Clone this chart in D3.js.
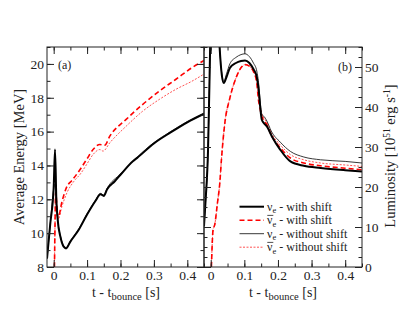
<!DOCTYPE html>
<html><head><meta charset="utf-8">
<script src="https://cdn.jsdelivr.net/npm/d3@7"></script>
<style>body{margin:0;background:#fff}svg{display:block}text{font-family:"Liberation Serif","DejaVu Serif",serif;fill:#222}</style>
</head><body><svg id="c" width="407" height="315"></svg>
<script>
// ---------- data ----------
const xTicks = [0, 0.1, 0.2, 0.3, 0.4];
const xTickLabels = ["0", "0.1", "0.2", "0.3", "0.4"];
const energyTicks = [8, 10, 12, 14, 16, 18, 20];
const lumTicks = [0, 10, 20, 30, 40, 50];

// (a) average energy
const eNuShiftT = [-0.02,-0.01,0,0.004,0.008,0.012,0.02,0.03,0.037,0.05,0.075,0.1,0.125,0.14,0.15,0.16,0.183,0.2,0.237,0.25,0.3,0.35,0.4,0.45];
const eNuShift  = [8.5,10.6,12.7,14.95,12.0,10.8,9.8,9.2,9.1,9.5,10.2,11.1,11.9,12.3,12.2,12.6,13.07,13.45,14.25,14.45,15.3,15.95,16.55,17.05];
const eNuNoShiftT = [-0.02,-0.01,0,0.004,0.008,0.012,0.02,0.03,0.037,0.05,0.075,0.1,0.125,0.14,0.15,0.16,0.2,0.25,0.3,0.35,0.4,0.45];
const eNuNoShift  = [8.5,10.6,12.6,12.9,11.8,10.8,9.85,9.25,9.15,9.55,10.25,11.15,11.95,12.35,12.25,12.65,13.5,14.5,15.35,16.0,16.6,17.1];
const eAntiShiftT = [0.002,0.004,0.006,0.01,0.013,0.025,0.04,0.054,0.079,0.1,0.118,0.138,0.153,0.168,0.217,0.266,0.316,0.365,0.414,0.45];
const eAntiShift  = [7.5,10.5,12.4,11.5,10.9,11.88,12.77,13.1,13.76,14.4,14.94,15.24,15.2,15.73,16.72,17.6,18.39,19.08,19.78,20.2];
const eAntiNoShiftT = [0.002,0.004,0.006,0.01,0.013,0.025,0.04,0.06,0.08,0.1,0.118,0.138,0.148,0.168,0.217,0.266,0.316,0.365,0.414,0.45];
const eAntiNoShift  = [7.5,10.5,12.3,11.3,10.8,11.6,12.4,13.05,13.5,14.1,14.65,14.94,14.85,15.34,16.32,17.2,17.9,18.49,18.98,19.4];

// (b) luminosity
const lNuShiftT = [-0.02,-0.015,-0.008,-0.004,0,0.012,0.025,0.033,0.039,0.047,0.057,0.075,0.09,0.102,0.115,0.127,0.137,0.143,0.147,0.152,0.16,0.167,0.182,0.207,0.237,0.277,0.327,0.4,0.45];
const lNuShift  = [10.2,17,29.3,45,62,85,57,48,46,47.5,49.75,51,51.5,51.65,51,49.5,47.5,44,40.15,36.8,35.8,35.15,32.65,29.3,26.4,25.3,24.75,24.2,23.9];
const lNuNoShiftT = [-0.02,-0.015,-0.008,-0.004,0,0.012,0.025,0.033,0.039,0.047,0.057,0.075,0.09,0.102,0.115,0.127,0.137,0.143,0.147,0.152,0.16,0.167,0.18,0.207,0.237,0.277,0.327,0.4,0.45];
const lNuNoShift  = [10.2,17,29.3,45,62,85,57,48.3,46.4,48.3,50.8,52.4,53.1,53.3,52.6,51.0,49,45.5,41.5,38.2,37.5,36.5,34,31.2,28.9,27.5,26.8,26.4,26.0];
const lAntiShiftT = [0.002,0.007,0.012,0.02,0.027,0.032,0.042,0.057,0.077,0.09,0.102,0.115,0.127,0.137,0.142,0.147,0.152,0.16,0.167,0.18,0.207,0.237,0.277,0.327,0.4,0.45];
const lAntiShift  = [0,9.3,10.6,16,21,27,36,42.25,47.65,49.8,50.6,50.2,48.9,46,41.8,39.5,37.65,36.5,35.6,33,29.8,27.25,26,25.3,24.7,24.3];
const lAntiNoShiftT = [0.002,0.007,0.012,0.02,0.027,0.032,0.042,0.057,0.077,0.09,0.102,0.115,0.127,0.137,0.142,0.147,0.152,0.16,0.167,0.18,0.207,0.237,0.277,0.327,0.4,0.45];
const lAntiNoShift  = [0,9.3,10.6,16,21,27,36,42.25,47.65,49.8,50.6,50.2,48.9,46.3,42.5,40.2,38.3,37,36.2,33.6,30.5,28.1,26.8,26.0,25.5,25.15];

const legendLabels = [
  {nu:"ν", bar:false, txt:" - with shift", style:"thick"},
  {nu:"ν", bar:true,  txt:" - with shift", style:"dash"},
  {nu:"ν", bar:false, txt:" - without shift", style:"thin"},
  {nu:"ν", bar:true,  txt:" - without shift", style:"dot"}
];

// ---------- styles ----------
const styles = {
  thick:{stroke:"#000", w:2.0, dash:null},
  thin:{stroke:"#222", w:0.9, dash:null},
  dash:{stroke:"#ff0000", w:1.6, dash:"5,3"},
  dot:{stroke:"#ff4040", w:0.9, dash:"2,1.5"}
};

const svg = d3.select("#c");
const plotTop = 47, plotBottom = 267;
const xA = d3.scaleLinear().domain([-0.02, 0.45]).range([47, 204]);
const xB = d3.scaleLinear().domain([-0.02, 0.45]).range([204, 362]);
const yA = d3.scaleLinear().domain([8, 21]).range([plotBottom, plotTop]);
const yB = d3.scaleLinear().domain([0, 55]).range([plotBottom, plotTop]);

const defs = svg.append("defs");
defs.append("clipPath").attr("id","clipA").append("rect").attr("x",47).attr("y",plotTop).attr("width",157).attr("height",plotBottom-plotTop);
defs.append("clipPath").attr("id","clipB").append("rect").attr("x",204).attr("y",plotTop).attr("width",158).attr("height",plotBottom-plotTop);

function drawSeries(g, xs, ys, T, V, st) {
  const s = styles[st];
  const data = T.map((t,i)=>[t, V[i]]);
  g.append("path").datum(data)
    .attr("d", d3.line().x(d=>xs(d[0])).y(d=>ys(d[1])).curve(d3.curveMonotoneX))
    .attr("fill","none").attr("stroke",s.stroke).attr("stroke-width",s.w)
    .attr("stroke-dasharray",s.dash).attr("stroke-linejoin","round");
}

const gA = svg.append("g").attr("clip-path","url(#clipA)");
drawSeries(gA, xA, yA, eAntiNoShiftT, eAntiNoShift, "dot");
drawSeries(gA, xA, yA, eAntiShiftT, eAntiShift, "dash");
drawSeries(gA, xA, yA, eNuNoShiftT, eNuNoShift, "thin");
drawSeries(gA, xA, yA, eNuShiftT, eNuShift, "thick");

const gB = svg.append("g").attr("clip-path","url(#clipB)");
drawSeries(gB, xB, yB, lAntiNoShiftT, lAntiNoShift, "dot");
drawSeries(gB, xB, yB, lAntiShiftT, lAntiShift, "dash");
drawSeries(gB, xB, yB, lNuNoShiftT, lNuNoShift, "thin");
drawSeries(gB, xB, yB, lNuShiftT, lNuShift, "thick");

// ---------- axes ----------
function range(a,b,s){const r=[];for(let v=a;v<=b+1e-9;v+=s)r.push(+v.toFixed(4));return r;}
const xMinor = range(0, 0.45, 0.05);
function addAxis(axisFn, scale, pos, majors, minors, fmt, showLabels) {
  const g = svg.append("g").attr("transform", pos);
  const ax = axisFn(scale).tickValues(minors).tickSize(-3.5).tickFormat("");
  g.call(ax); g.select(".domain").remove();
  const g2 = svg.append("g").attr("transform", pos);
  const ax2 = axisFn(scale).tickValues(majors).tickSize(-7).tickPadding(4)
     .tickFormat(showLabels ? fmt : "");
  g2.call(ax2); g2.select(".domain").remove();
  g2.selectAll("text").style("font-size","13.5px").attr("fill","#222");
  svg.selectAll(".tick line").attr("stroke","#222");
  return g2;
}
const fx = (d)=>xTickLabels[xTicks.indexOf(d)];
// panel a
addAxis(d3.axisBottom, xA, `translate(0,${plotBottom})`, xTicks, xMinor, fx, true)
  .selectAll("text").attr("y", 13).attr("dy", 0);
addAxis(d3.axisTop, xA, `translate(0,${plotTop})`, xTicks, xMinor, fx, false);
addAxis(d3.axisLeft, yA, `translate(47,0)`, energyTicks, range(8,21,1), d3.format("d"), true)
  .selectAll("text").attr("x", -3);
addAxis(d3.axisRight, yA, `translate(204,0)`, energyTicks, range(8,21,1), d3.format("d"), false);
// panel b
addAxis(d3.axisBottom, xB, `translate(0,${plotBottom})`, xTicks, xMinor, fx, true)
  .selectAll("text").attr("y", 13).attr("dy", 0);
addAxis(d3.axisTop, xB, `translate(0,${plotTop})`, xTicks, xMinor, fx, false);
addAxis(d3.axisRight, yB, `translate(362,0)`, lumTicks, range(0,55,2.5), d3.format("d"), true)
  .selectAll("text").attr("x", 3).attr("text-anchor","start");
addAxis(d3.axisLeft, yB, `translate(204,0)`, lumTicks, range(0,55,2.5), d3.format("d"), false);

// frames
svg.append("rect").attr("x",47).attr("y",plotTop).attr("width",157).attr("height",plotBottom-plotTop).attr("fill","none").attr("stroke","#222").attr("stroke-width",1);
svg.append("rect").attr("x",204).attr("y",plotTop).attr("width",158).attr("height",plotBottom-plotTop).attr("fill","none").attr("stroke","#222").attr("stroke-width",1);

// ---------- labels ----------
svg.append("text").attr("x",58).attr("y",69).style("font-size","12px").text("(a)");
svg.append("text").attr("x",338).attr("y",71).style("font-size","12px").text("(b)");

function xTitle(cx){
  const t = svg.append("text").attr("x",cx).attr("y",297).attr("text-anchor","middle").style("font-size","14px");
  t.append("tspan").text("t - t");
  t.append("tspan").attr("dy",3).style("font-size","10.5px").text("bounce");
  t.append("tspan").attr("dy",-3).text(" [s]");
}
xTitle(126); xTitle(283);

svg.append("text").attr("transform","translate(24,157) rotate(-90)").attr("text-anchor","middle")
  .style("font-size","14.5px").text("Average Energy [MeV]");
const lt = svg.append("text").attr("transform","translate(395,156) rotate(-90)").attr("text-anchor","middle").style("font-size","14.5px");
lt.append("tspan").text("Luminosity [10");
lt.append("tspan").attr("dy",-5).style("font-size","9.5px").text("51");
lt.append("tspan").attr("dy",5).text(" erg s");
lt.append("tspan").attr("dy",-5).style("font-size","9.5px").text("-1");
lt.append("tspan").attr("dy",5).text("]");

// ---------- legend ----------
legendLabels.forEach((d,i)=>{
  const y = 206.7 + i*13.5;
  const s = styles[d.style];
  svg.append("line").attr("x1",239.5).attr("x2",264).attr("y1",y).attr("y2",y)
    .attr("stroke",s.stroke).attr("stroke-width",s.w).attr("stroke-dasharray",s.dash);
  const t = svg.append("text").attr("x",267).attr("y",y+4).style("font-size","12px");
  t.append("tspan").text(d.nu);
  t.append("tspan").attr("dy",2.5).style("font-size","8.5px").text("e");
  t.append("tspan").attr("dy",-2.5).text(d.txt);
  if (d.bar) {
    svg.append("line").attr("x1",267.3).attr("x2",273.3).attr("y1",y-4.8).attr("y2",y-4.8)
      .attr("stroke","#222").attr("stroke-width",0.8);
  }
});
</script></body></html>
